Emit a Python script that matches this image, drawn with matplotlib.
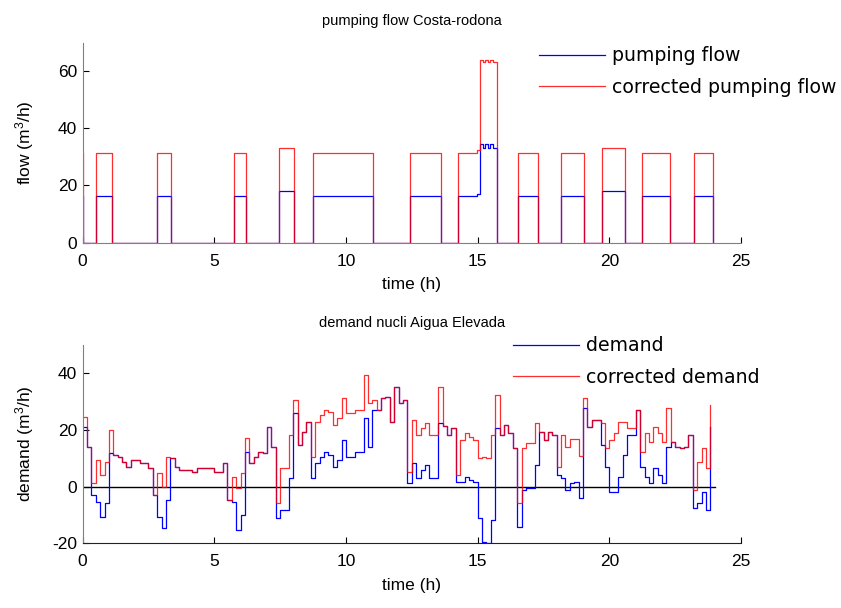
import numpy as np
import matplotlib
matplotlib.use('Agg')
import matplotlib.pyplot as plt

plt.rcParams['font.family'] = ['Liberation Sans', 'DejaVu Sans']
plt.rcParams['mathtext.default'] = 'regular'
plt.rcParams['axes.unicode_minus'] = False

# pumping flow (stairs, value holds from each time until the next)
pump_t = [0, 0.03, 0.50, 1.13, 2.84, 3.34, 5.76, 6.20, 7.47, 8.04, 8.74, 11.03,
          12.42, 13.62, 14.26, 14.98, 15.09, 15.21, 15.28, 15.40, 15.47, 15.59,
          15.72, 16.54, 17.30, 18.15, 19.02, 19.73, 20.60, 21.25, 22.30, 23.22, 23.92]
pump = [16.2, 0, 16.2, 0, 16.2, 0, 16.2, 0, 18.1, 0, 16.2, 0,
        16.2, 0, 16.2, 17.0, 34.4, 33.2, 34.4, 33.2, 34.4, 33.2,
        0, 16.2, 0, 16.2, 0, 18.1, 0, 16.2, 0, 16.2, 0]
pump_corr = [31.5, 0, 31.5, 0, 31.5, 0, 31.5, 0, 33.2, 0, 31.5, 0,
             31.5, 0, 31.5, 32.5, 63.9, 63.1, 63.9, 63.1, 63.9, 63.1,
             0, 31.5, 0, 31.5, 0, 33.2, 0, 31.5, 0, 31.5, 0]

# demand, one value every 10 minutes
demand_t = np.arange(144) / 6.0
demand = [21.2, 14.1, -2.9, -5.3, -10.6, -5.9, 11.8, 11.2, 10.6, 8.8,
          7.1, 9.4, 9.4, 8.2, 8.2, 6.5, -2.9, -10.6, -14.7, -4.7,
          10.0, 7.1, 5.9, 5.9, 5.9, 5.3, 6.5, 6.5, 6.5, 6.5,
          5.3, 5.3, 8.2, -4.7, -5.3, -15.3, -10.0, 12.4, 8.2, 10.6,
          12.4, 11.8, 21.2, 14.1, -11.2, -8.2, -8.2, 2.9, 25.9, 14.7,
          19.4, 22.9, 2.9, 8.2, 10.6, 12.4, 11.2, 7.1, 9.4, 16.5,
          10.6, 10.6, 12.4, 12.4, 24.1, 14.1, 27.1, 27.1, 31.2, 31.5,
          22.9, 35.3, 29.4, 30.6, 1.2, 8.2, 2.9, 5.9, 7.6, 2.9,
          2.9, 22.4, 21.4, 18.2, 20.6, 1.8, 1.8, 3.5, 2.4, 1.8,
          -11.2, -19.4, -20.0, -11.8, 20.6, 18.2, 21.8, 18.8, 13.5, -14.1,
          -1.2, -0.6, -0.6, 7.6, 19.4, 16.5, 19.4, 18.2, 4.1, 2.9,
          -1.2, 1.2, 1.8, -4.1, 27.6, 21.2, 23.5, 23.5, 14.7, 7.1,
          -1.8, -1.8, 3.5, 11.2, 18.2, 18.2, 27.1, 7.1, 3.5, 1.2,
          6.5, 4.1, 1.2, 14.1, 15.9, 14.1, 13.5, 14.1, 18.2, -7.6,
          -5.9, -1.8, -8.2, 21.2]
demand_corr = [24.7, 14.1, 1.2, 9.4, 4.1, 8.8, 20.0, 11.2, 10.6, 8.8,
               7.1, 9.4, 9.4, 8.2, 8.2, 6.5, -2.9, 4.7, 0.0, 10.6,
               10.0, 7.1, 5.9, 5.9, 5.9, 5.3, 6.5, 6.5, 6.5, 6.5,
               5.3, 5.3, 8.2, -4.7, 3.5, -0.6, 4.7, 17.1, 8.2, 10.6,
               12.4, 11.8, 21.2, 14.1, -5.9, 6.5, 6.5, 18.2, 30.6, 14.7,
               19.4, 22.9, 10.6, 22.9, 25.3, 27.1, 26.5, 21.8, 24.1, 31.2,
               26.1, 26.1, 27.1, 27.1, 39.4, 29.4, 30.6, 27.1, 31.2, 31.5,
               22.9, 35.3, 29.4, 30.6, 5.3, 23.5, 18.2, 20.6, 22.4, 18.2,
               18.2, 35.3, 21.4, 18.2, 20.6, 4.1, 16.5, 18.8, 17.6, 16.5,
               10.0, 10.6, 10.0, 18.2, 32.4, 18.2, 21.8, 18.8, 13.5, -5.9,
               13.5, 15.3, 15.3, 22.4, 19.4, 16.5, 19.4, 18.2, 7.1, 18.2,
               14.1, 16.7, 16.7, 10.8, 31.2, 21.2, 23.5, 23.5, 22.4, 13.5,
               16.5, 18.8, 22.9, 22.9, 20.6, 20.6, 27.1, 12.4, 18.8, 15.9,
               21.2, 18.8, 15.9, 27.6, 15.9, 14.1, 13.5, 14.1, 18.2, -1.2,
               8.8, 13.5, 6.5, 28.8]

blue = '#0000ff'
red = '#ff0000'
lw = 0.9

fig = plt.figure(figsize=(8.41, 6.08), dpi=100)
ax1 = fig.add_axes([0.0982, 0.601, 0.783, 0.329])
ax2 = fig.add_axes([0.0982, 0.1063, 0.783, 0.3263])

# top: pumping flow
ax1.step(pump_t, pump, where='post', color=blue, lw=lw, label='pumping flow')
ax1.step(pump_t, pump_corr, where='post', color=red, lw=lw, alpha=0.82,
         label='corrected pumping flow')
ax1.set_xlim(0, 25)
ax1.set_ylim(0, 70)
ax1.set_yticks([0, 20, 40, 60])
ax1.set_title('pumping flow Costa-rodona', fontsize=10.5, pad=13)
ax1.set_ylabel(r'flow (m$^3$/h)', fontsize=12.5)

# bottom: demand
ax2.plot([0, 24], [0, 0], color='black', lw=1.0)
ax2.step(demand_t, demand, where='post', color=blue, lw=lw, label='demand')
ax2.step(demand_t, demand_corr, where='post', color=red, lw=lw, alpha=0.82,
         label='corrected demand')
ax2.set_xlim(0, 25)
ax2.set_ylim(-20, 50)
ax2.set_yticks([-20, 0, 20, 40])
ax2.set_title('demand nucli Aigua Elevada', fontsize=10.5, pad=13)
ax2.set_ylabel(r'demand (m$^3$/h)', fontsize=12.5)

for ax in (ax1, ax2):
    ax.set_xticks([0, 5, 10, 15, 20, 25])
    ax.set_xlabel('time (h)', fontsize=12.5, labelpad=6)
    ax.spines['top'].set_visible(False)
    ax.spines['right'].set_visible(False)
    ax.spines['left'].set_color('#808080')
    ax.tick_params(direction='in', length=4.5, width=0.8, labelsize=12.5)
    ax.tick_params(axis='x', pad=8)
    ax.tick_params(axis='y', pad=4)
    ax.yaxis.set_label_coords(-0.07, 0.5)
    ax.patch.set_visible(False)
ax1.spines['bottom'].set_color('#808080')
ax2.spines['bottom'].set_color('#222222')

leg_kw = dict(loc='upper left', bbox_transform=fig.transFigure, frameon=False,
              borderpad=0, borderaxespad=0, handlelength=3.5, handletextpad=0.37,
              labelspacing=0.68, prop={'family': 'DejaVu Sans', 'size': 13.6})
ax1.legend(bbox_to_anchor=(0.641, 0.924), **leg_kw)
ax2.legend(bbox_to_anchor=(0.610, 0.447), **leg_kw)

fig.savefig('out.png', dpi=100)
